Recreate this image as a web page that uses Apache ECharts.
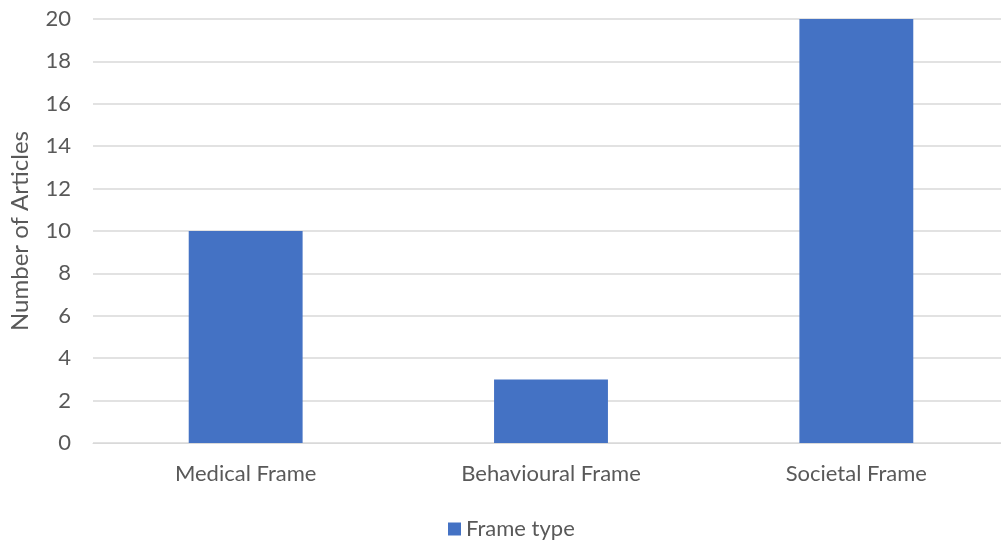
<!DOCTYPE html>
<html><head><meta charset="utf-8">
<script src="https://cdn.jsdelivr.net/npm/echarts@6/dist/echarts.min.js"></script>
<style>html,body{margin:0;padding:0;background:#fff;overflow:hidden}#c{width:1009px;height:540px}</style>
</head><body><div id="c"></div>
<script>
const categories = ["Medical Frame", "Behavioural Frame", "Societal Frame"];
const frameType = [10, 3, 20];
const seriesName = "Frame type";
const yTitle = "Number of Articles";

const font = "Lato, 'Open Sans', sans-serif";
const chart = echarts.init(document.getElementById('c'));
chart.setOption({
  animation: false,
  textStyle: {fontFamily: font},
  grid: {left: 91, right: 0, top: 19, height: 424, containLabel: false},
  legend: {
    top: 513, left: 443, itemWidth: 13, itemHeight: 13, itemGap: 8,
    icon: 'rect',
    textStyle: {color: '#595959', fontSize: 22, fontFamily: font},
    data: [seriesName]
  },
  xAxis: {
    type: 'category', data: categories,
    axisLine: {lineStyle: {color: '#d9d9d9', width: 1}},
    axisTick: {show: false},
    axisLabel: {color: '#595959', fontSize: 22, margin: 20, fontFamily: font}
  },
  yAxis: {
    type: 'value', min: 0, max: 20, interval: 2,
    name: yTitle, nameLocation: 'middle', nameGap: 61,
    nameTextStyle: {color: '#595959', fontSize: 24, fontFamily: font},
    axisLine: {show: false}, axisTick: {show: false},
    axisLabel: {color: '#595959', fontSize: 22, margin: 22, fontFamily: font},
    splitLine: {lineStyle: {color: '#d9d9d9', width: 1.5}}
  },
  series: [{
    name: seriesName, type: 'bar', data: frameType, barWidth: '37.3%',
    itemStyle: {color: '#4472C4'}
  }]
});
</script></body></html>
